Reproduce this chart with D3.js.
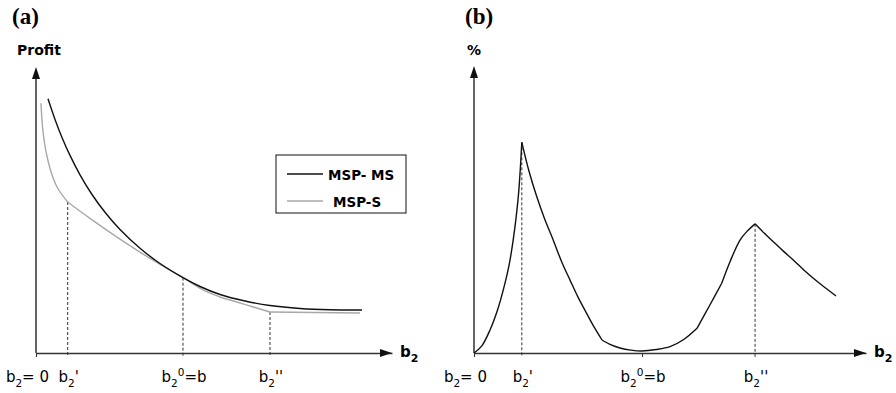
<!DOCTYPE html>
<html><head><meta charset="utf-8">
<script src="https://cdn.jsdelivr.net/npm/d3@7"></script>
<style>
body{margin:0;background:#fff;}
text{font-family:"DejaVu Sans",Arial,sans-serif;fill:#000;}
</style></head>
<body><svg id="c" width="896" height="393"></svg>
<script>
// ---------- DATA ----------
// Panel (a): Profit vs b2 (arbitrary units, 0-100)
const profitMS = [[3.37,88.88],[5.34,81.68],[7.30,75.38],[9.55,69.09],[12.36,62.31],[15.73,55.42],[19.38,49.20],[23.60,43.15],[29.21,36.61],[34.83,31.29],[41.29,26.33],[46.07,23.25],[51.69,20.45],[58.71,18.18],[65.73,16.61],[74.16,15.56],[82.58,15.10],[91.57,15.03]];
const profitS = [[1.40,87.3],[1.88,78.5],[2.81,70.4],[4.21,63.4],[6.10,57.6],[8.90,52.8],[15.17,47.06],[23.60,39.79],[29.21,35.28],[34.83,31.01],[41.29,26.33],[47.47,21.68],[51.69,19.58],[56.46,17.83],[61.52,15.91],[65.73,14.34],[91.0,14.0]];
const kinksA = [8.9, 65.73];
const dashA = [[8.9,52.8],[41.29,26.33],[65.73,14.34]];
const ticksA = [0];
const labelsA = ["b_2= 0","b_2'","b_2^0=b","b_2''"];
const labelPosA = [0, 8.9, 41.29, 65.73];
// Panel (b): % vs b2
const pctCurve = [[0,0],[2.0,2.5],[4.08,8.0],[6.0,15.0],[7.47,22.0],[9.0,31.0],[10.0,39.4],[11.3,54.5],[12.2,73.4],[14.0,63.5],[16.0,54.5],[18.0,46.8],[20.2,39.4],[22.3,32.0],[24.5,25.4],[26.6,19.3],[28.7,13.9],[30.7,8.9],[32.65,4.53],[35.0,2.8],[37.24,1.74],[40.0,1.0],[42.86,0.7],[46.5,1.2],[50.0,2.2],[53.5,4.7],[56.89,8.61],[60.0,16.3],[63.19,24.29],[65.31,31.81],[67.86,39.37],[69.8,42.6],[71.7,45.0],[74.0,41.8],[76.35,38.78],[78.9,35.5],[81.45,32.4],[84.0,29.1],[86.56,26.03],[89.5,22.8],[92.35,19.86]];
const kinksB = [12.2, 32.65, 56.89, 63.19, 71.7];
const dashB = [[12.2,73.4],[71.7,45.0]];
const ticksB = [0, 42.86];
const labelsB = ["b_2= 0","b_2'","b_2^0=b","b_2''"];
const labelPosB = [0, 12.2, 42.86, 71.7];
const legendNames = ["MSP- MS","MSP-S"];
const colors = ["#111","#a8a8a8"];

// ---------- DRAW ----------
const svg = d3.select("#c");
const xA = d3.scaleLinear().domain([0,100]).range([36,392]);
const yA = d3.scaleLinear().domain([0,100]).range([353,67]);
const xB = d3.scaleLinear().domain([0,100]).range([474,866]);
const yB = d3.scaleLinear().domain([0,100]).range([353,66]);

function rich(g, x, y, str, size, anchor, weight, subSize, subShift, supShift){
  const t = g.append("text").attr("x",x).attr("y",y).attr("text-anchor",anchor)
    .attr("font-size",size).attr("font-weight",weight||"normal");
  const parts = [];
  const re = /([_^])(.)|([^_^]+)/g; let m;
  while((m = re.exec(str))){ if(m[1]) parts.push({t:m[2], s:m[1]==="_"?"sub":"sup"}); else parts.push({t:m[3]}); }
  let cur = 0;
  parts.forEach(p=>{
    const shift = p.s==="sub" ? (subShift||size*0.3) : p.s==="sup" ? (supShift||-size*0.4) : 0;
    t.append("tspan").attr("dy", shift-cur).attr("font-size", p.s? (subSize||size*0.7) : size).text(p.t);
    cur = shift;
  });
  return t;
}

function split(points, kinks){
  const segs = []; let cur = [];
  points.forEach(p=>{ cur.push(p); if(kinks.includes(p[0])){ segs.push(cur); cur=[p]; } });
  if(cur.length>1) segs.push(cur);
  return segs;
}

function panel(x, y, opts){
  const g = svg.append("g");
  const ax = d3.axisBottom(x).tickValues(opts.ticks).tickSize(4).tickSizeOuter(0).tickFormat("");
  const axg = g.append("g").attr("transform",`translate(0,${y(0)})`).call(ax);
  axg.select(".domain").attr("stroke","#333").attr("stroke-width",1.3);
  axg.selectAll(".tick line").attr("stroke","#333").attr("stroke-width",1.1);
  const [x0,x1] = x.range(); const [y0,y1] = y.range();
  g.append("line").attr("x1",x0).attr("x2",x0).attr("y1",y0).attr("y2",y1+8).attr("stroke","#111").attr("stroke-width",1.3);
  g.append("path").attr("d",`M${x0},${y1} L${x0-4},${y1+12} L${x0+4},${y1+12} Z`).attr("fill","#111");
  g.append("path").attr("d",`M${x1},${y0} L${x1-12},${y0-4} L${x1-12},${y0+4} Z`).attr("fill","#111");
  g.selectAll(".dash").data(opts.dash).join("line")
    .attr("x1",d=>x(d[0])).attr("x2",d=>x(d[0])).attr("y1",d=>y(d[1])).attr("y2",y(0)+4)
    .attr("stroke","#333").attr("stroke-width",1).attr("stroke-dasharray","3,2");
  const line = d3.line().x(d=>x(d[0])).y(d=>y(d[1])).curve(d3.curveCatmullRom.alpha(0.5));
  opts.series.forEach(s=>{
    split(s.data, s.kinks).forEach(seg=>{
      g.append("path").attr("d",line(seg)).attr("fill","none").attr("stroke",s.color).attr("stroke-width",1.4);
    });
  });
  opts.labels.forEach((l,i)=>{
    if(i===0) rich(g, x(opts.labelPos[i])+13, 382, l, 15, "end", "normal", 10.5, 4.5, -6);
    else rich(g, x(opts.labelPos[i])+1, 382, l, 15, "middle", "normal", 10.5, 4.5, -6);
  });
  rich(g, x1+8, 357, "b_2", 15, "start", "bold", 11, 5);
  rich(g, opts.titleX, 24, opts.title, 23, "start", "bold").style("font-family","'Liberation Serif',serif");
  rich(g, opts.yLabX, 55, opts.yLab, 14, "start", "bold");
  return g;
}

panel(xA, yA, {ticks:ticksA, dash:dashA, labels:labelsA, labelPos:labelPosA,
  series:[{data:profitS,kinks:kinksA,color:colors[1]},{data:profitMS,kinks:[],color:colors[0]}],
  title:"(a)", titleX:12, yLab:"Profit", yLabX:17});
panel(xB, yB, {ticks:ticksB, dash:dashB, labels:labelsB, labelPos:labelPosB,
  series:[{data:pctCurve,kinks:kinksB,color:colors[0]}],
  title:"(b)", titleX:465, yLab:"%", yLabX:467});

const lg = svg.append("g").attr("transform","translate(276,155)");
lg.append("rect").attr("width",130).attr("height",58).attr("fill","#fff").attr("stroke","#111").attr("stroke-width",1);
legendNames.forEach((n,i)=>{
  lg.append("line").attr("x1",11).attr("x2",47).attr("y1",19+i*27).attr("y2",19+i*27).attr("stroke",colors[i]).attr("stroke-width",1.5);
  lg.append("text").attr("x",i===0?52:57).attr("y",24.5+i*27).attr("font-size",13.5).attr("font-weight","bold").text(n);
});
</script></body></html>
